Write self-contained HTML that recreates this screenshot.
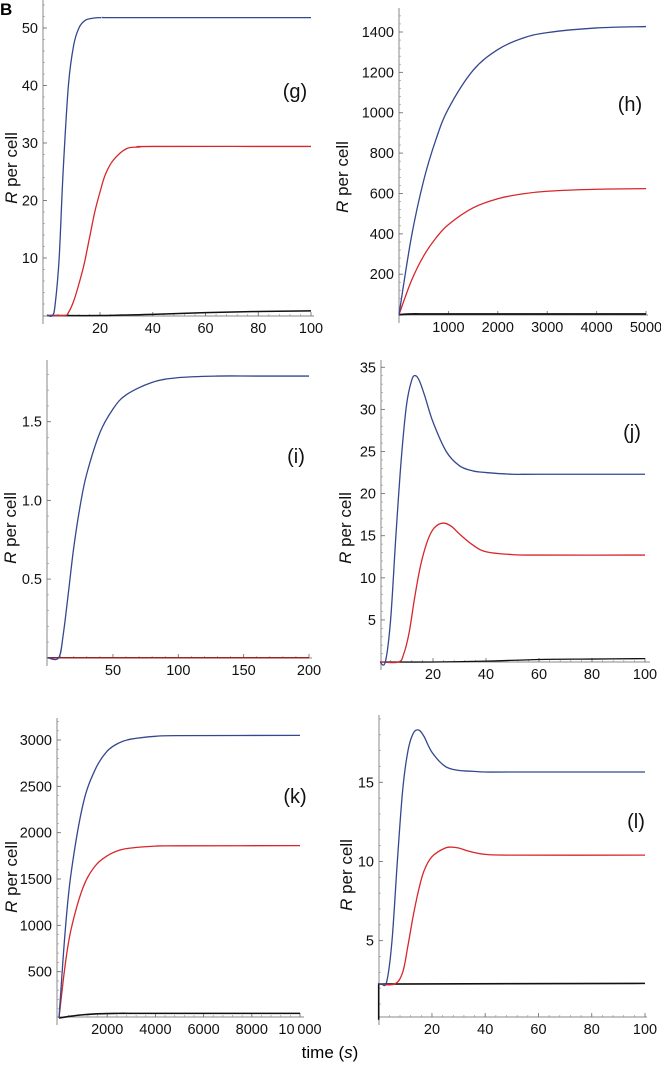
<!DOCTYPE html>
<html><head><meta charset="utf-8">
<style>
html,body{margin:0;padding:0;background:#fff;}
svg{display:block;font-family:"Liberation Sans",sans-serif;}
</style></head>
<body>
<svg id="fig" width="661" height="1067" viewBox="0 0 661 1067">
<text x="0" y="15" font-size="17" font-weight="bold">B</text>
<text x="330" y="1058" font-size="17" text-anchor="middle">time (<tspan font-style="italic">s</tspan>)</text>
</svg>
<script>
// ---- data ----
const gBlueT=[0,2,3,4.5,6,8,10,12,14,16,20,30,100];
const gBlueV=[0,0,2,10,25,40,47,50,51.2,51.6,51.8,51.8,51.8];
const gRedT=[0,6.5,8,10,12,14,16,18,20,22,25,30,35,40,100];
const gRedV=[0,0,0.5,2.5,5.5,9,13.5,18,21.5,24.5,27,29,29.3,29.4,29.4];
const gBlackT=[0,20,40,60,80,100];
const gBlackV=[0,0,0.2,0.5,0.7,0.8];

const hT=[0,250,500,750,1000,1500,2000,2500,3000,4000,5000];
const hBlueV=[0,383,665,869,1020,1210,1313,1369,1397,1420,1427];
const hRedV=[0,167,291,380,446,529,574,598,611,621,624];
const hBlackV=[0,3,3,3,3,3,3,3,3,3,3];

const iT=[0,8.5,12,16,20,25,30,40,50,60,80,100,130,160,200];
const iBlueV=[0,0,0.15,0.42,0.7,0.97,1.17,1.43,1.58,1.67,1.75,1.78,1.79,1.79,1.79];
const iRedV=[0,0,0,0,0,0,0,0,0,0,0,0,0,0,0];
const iBlackV=[0,0,0,0,0,0,0,0,0,0,0,0,0,0,0];

const jBlueT=[0,2,4,6,8,10,12,13.5,15,17,20,25,30,35,40,50,60,100];
const jBlueV=[0,0,5,15,24,30.5,33.5,34,33.3,31.5,28.5,25,23.3,22.7,22.5,22.3,22.3,22.3];
const jRedT=[0,7,9,11,13,15,17,19,21,24,27,30,35,40,50,60,100];
const jRedV=[0,0,1,3.5,7.5,11,13.5,15.2,16.1,16.5,16.1,15.2,13.9,13.1,12.75,12.7,12.7];
const jBlackT=[0,20,40,60,80,100];
const jBlackV=[0,0,0.1,0.3,0.35,0.4];

const kT=[0,250,500,1000,1500,2000,2500,3000,4000,5000,10000];
const kBlueV=[0,916,1560,2310,2680,2880,2970,3010,3040,3047,3050];
const kRedV=[0,560,955,1410,1640,1750,1810,1835,1855,1858,1860];
const kBlackV=[0,10,20,35,44,48,50,50,50,50,50];

const lBlueT=[0,1,3,5,7,9,11,13,15,17,20,25,30,35,40,50,100];
const lBlueV=[2.26,2.26,2.4,5,10,14.5,17,18.1,18.3,17.9,16.9,16,15.75,15.7,15.65,15.65,15.65];
const lRedT=[0,6,9,11,13,15,17,20,25,28,30,35,40,50,100];
const lRedV=[2.26,2.26,3,4.7,6.6,8.2,9.4,10.3,10.85,10.9,10.85,10.6,10.45,10.4,10.4];
const lBlackT=[0,0,50,100];
const lBlackV=[0,2.26,2.28,2.3];

const gXTicks=[20,40,60,80,100], gYTicks=[10,20,30,40,50];
const hXTicks=[1000,2000,3000,4000,5000], hYTicks=[200,400,600,800,1000,1200,1400];
const iXTicks=[50,100,150,200], iYTicks=[0.5,1.0,1.5];
const iYLabels=["0.5","1.0","1.5"];
const jXTicks=[20,40,60,80,100], jYTicks=[5,10,15,20,25,30,35];
const kXTicks=[2000,4000,6000,8000,10000], kYTicks=[500,1000,1500,2000,2500,3000];
const kXLabels=["2000","4000","6000","8000","10\u2009000"];
const lXTicks=[20,40,60,80,100], lYTicks=[5,10,15];

// ---- rendering ----
const NS="http://www.w3.org/2000/svg";
const svg=document.getElementById('fig');
const BLUE="#34478f", RED="#d8262b", BLACK="#111";
function mk(tag,attrs,parent){const e=document.createElementNS(NS,tag);for(const k in attrs)e.setAttribute(k,attrs[k]);(parent||svg).appendChild(e);return e;}
function linePath(pts){return "M"+pts.map(p=>p[0].toFixed(2)+","+p[1].toFixed(2)).join(" L");}
function smoothPath(pts){
  let d="M"+pts[0][0].toFixed(2)+","+pts[0][1].toFixed(2);
  for(let i=0;i<pts.length-1;i++){
    const p0=pts[Math.max(0,i-1)],p1=pts[i],p2=pts[i+1],p3=pts[Math.min(pts.length-1,i+2)];
    const c1=[p1[0]+(p2[0]-p0[0])/6,p1[1]+(p2[1]-p0[1])/6];
    const c2=[p2[0]-(p3[0]-p1[0])/6,p2[1]-(p3[1]-p1[1])/6];
    d+=" C"+c1[0].toFixed(2)+","+c1[1].toFixed(2)+" "+c2[0].toFixed(2)+","+c2[1].toFixed(2)+" "+p2[0].toFixed(2)+","+p2[1].toFixed(2);
  }
  return d;
}
function panel(p){
  const g=mk('g',{});
  
  
  const sx=v=>p.x0+(v-p.xmin)/(p.xmax-p.xmin)*(p.x1-p.x0);
  const sy=v=>p.y0-(v-p.ymin)/(p.ymax-p.ymin)*(p.y0-p.y1);
  const axY=p.axY, axX=p.axX;
  const ya=mk('line',{x1:axX,x2:axX,y1:p.yTop,y2:axY+8,stroke:"#888","stroke-width":1},g);
  
  
  const xa=mk('line',{x1:axX,x2:p.xRight,y1:axY,y2:axY,stroke:"#888","stroke-width":1},g);
  
  
  const xs=p.xTicks[1]-p.xTicks[0], ys=p.yTicks[1]-p.yTicks[0];
  for(let v=0;v<=p.xmax+1e-9;v+=xs/5){const X=sx(v);if(X<axX+1)continue;mk('line',{x1:X,x2:X,y1:axY,y2:axY-2,stroke:"#999","stroke-width":0.7},g);}
  for(let v=0;sy(v)>=p.yTop;v+=ys/5){const Y=sy(v);if(Y>axY-1)continue;mk('line',{x1:axX,x2:axX+2,y1:Y,y2:Y,stroke:"#999","stroke-width":0.7},g);}
  p.xTicks.forEach((v,i)=>{const X=sx(v);
    mk('line',{x1:X,x2:X,y1:axY,y2:axY-4,stroke:"#777","stroke-width":0.9},g);
    const t=mk('text',{x:X,y:axY+17,"font-size":14.5,"text-anchor":"middle",fill:"#111"},g);
    t.textContent=p.xLabels?p.xLabels[i]:String(v);
    
    });
  p.yTicks.forEach((v,i)=>{const Y=sy(v);
    mk('line',{x1:axX,x2:axX+4,y1:Y,y2:Y,stroke:"#777","stroke-width":0.9},g);
    const t=mk('text',{x:axX-5,y:Y+5,"font-size":14.5,"text-anchor":"end",fill:"#111"},g);
    t.textContent=p.yLabels?p.yLabels[i]:String(v);
    
    });
  p.series.forEach(s=>{
    const pts=s.t.map((tv,i)=>[sx(tv),sy(s.v[i])]);
    const path=mk('path',{d:s.linear?linePath(pts):smoothPath(pts),fill:"none",stroke:s.c,"stroke-width":s.w||1.3},g);
    
    
  });
  const yl=mk('text',{x:p.ylX,y:p.ylY,"font-size":17,"text-anchor":"middle",transform:`rotate(-90 ${p.ylX} ${p.ylY})`,fill:"#111"},g);
  yl.innerHTML='<tspan font-style="italic">R</tspan> per cell';
  
  
  const pl=mk('text',{x:p.lx,y:p.ly,"font-size":20,"text-anchor":"middle",fill:"#111"},g);
  pl.textContent='('+p.id+')';
  
  
}
panel({id:'g',xmin:0,xmax:100,x0:47.3,x1:311,ymin:0,ymax:50,y0:315.5,y1:28,axX:43,axY:316,yTop:0,xRight:314,
  xTicks:gXTicks,yTicks:gYTicks,ylX:17,ylY:168,lx:295,ly:98,
  series:[{t:gBlackT,v:gBlackV,c:BLACK,name:'black',w:1.5},{t:gRedT,v:gRedV,c:RED,name:'red'},{t:gBlueT,v:gBlueV,c:BLUE,name:'blue'}]});
panel({id:'h',xmin:0,xmax:5000,x0:399,x1:646,ymin:0,ymax:1400,y0:314.6,y1:32,axX:399,axY:315,yTop:8,xRight:648,
  xTicks:hXTicks,yTicks:hYTicks,ylX:348,ylY:177,lx:630,ly:111,
  series:[{t:hT,v:hBlackV,c:BLACK,name:'black',w:1.8},{t:hT,v:hRedV,c:RED,name:'red'},{t:hT,v:hBlueV,c:BLUE,name:'blue'}]});
panel({id:'i',xmin:0,xmax:200,x0:47.6,x1:309,ymin:0,ymax:1.5,y0:657.8,y1:421.7,axX:47,axY:658,yTop:360,xRight:312,
  xTicks:iXTicks,yTicks:iYTicks,yLabels:iYLabels,ylX:16,ylY:528,lx:296,ly:463,
  series:[{t:iT,v:iBlackV,c:BLACK,name:'black'},{t:iT,v:iRedV,c:"#a02020",name:'red'},{t:iT,v:iBlueV,c:BLUE,name:'blue'}]});
panel({id:'j',xmin:0,xmax:100,x0:380,x1:645,ymin:0,ymax:35,y0:662,y1:367.3,axX:381,axY:662,yTop:360,xRight:650,
  xTicks:jXTicks,yTicks:jYTicks,ylX:351,ylY:528,lx:632,ly:439,
  series:[{t:jBlackT,v:jBlackV,c:BLACK,name:'black'},{t:jRedT,v:jRedV,c:RED,name:'red'},{t:jBlueT,v:jBlueV,c:BLUE,name:'blue'}]});
panel({id:'k',xmin:0,xmax:10000,x0:59,x1:300,ymin:0,ymax:3000,y0:1018,y1:740,axX:57,axY:1017,yTop:718,xRight:304,
  xTicks:kXTicks,yTicks:kYTicks,xLabels:kXLabels,ylX:17,ylY:877,lx:295,ly:803,
  series:[{t:kT,v:kBlackV,c:BLACK,name:'black',w:1.6},{t:kT,v:kRedV,c:RED,name:'red'},{t:kT,v:kBlueV,c:BLUE,name:'blue'}]});
panel({id:'l',xmin:0,xmax:100,x0:378.7,x1:645,ymin:0,ymax:15,y0:1019.8,y1:782.3,axX:379,axY:1017,yTop:715,xRight:647,
  xTicks:lXTicks,yTicks:lYTicks,ylX:352,ylY:875,lx:636,ly:828,
  series:[{t:lBlackT,v:lBlackV,c:BLACK,name:'black',w:1.6,linear:true},{t:lRedT,v:lRedV,c:RED,name:'red'},{t:lBlueT,v:lBlueV,c:BLUE,name:'blue'}]});
</script>
</body></html>
